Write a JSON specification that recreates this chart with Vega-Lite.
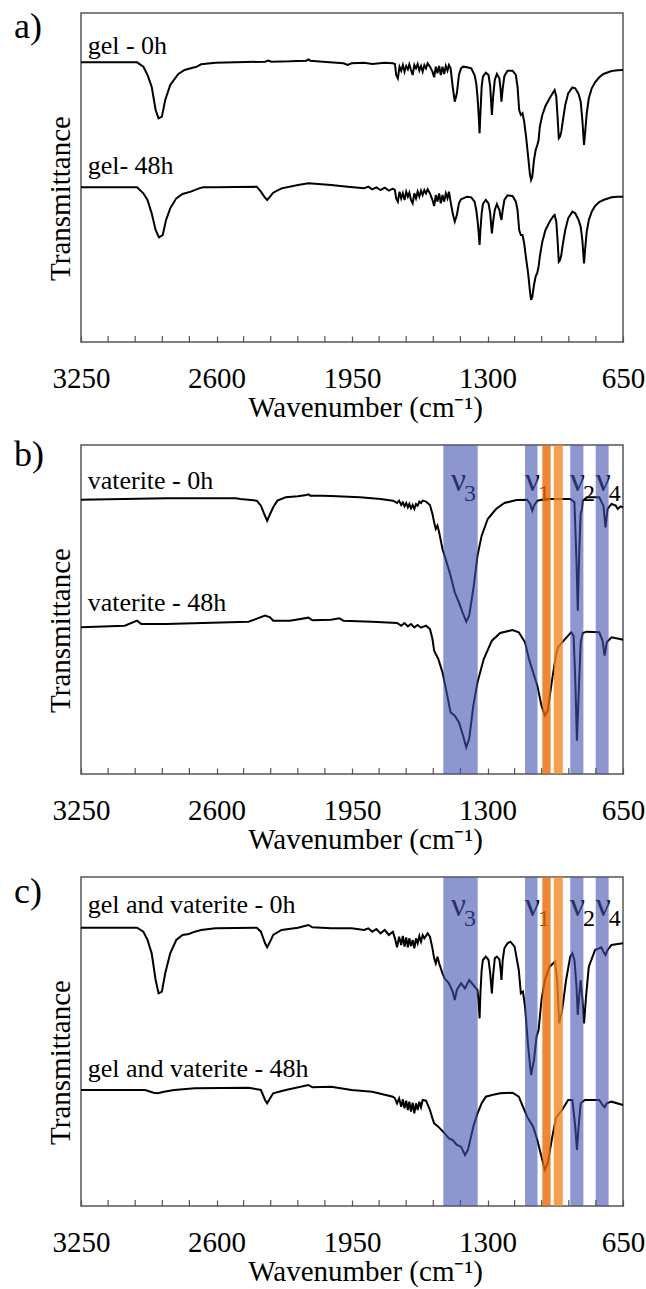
{
"$schema": "https://vega.github.io/schema/vega-lite/v6.json",
"padding": {"left": 13, "top": 7, "right": 0, "bottom": 0},
"background": "white",
"spacing": 103,
"bounds": "flush",
"config": {"view": {"stroke": "#555555", "strokeWidth": 1.5}, "font": "Liberation Serif"},
"datasets": {
"a": [
{"w":3250,"t":839,"s":"0h"},{"w":2981,"t":839,"s":"0h"},{"w":2951,"t":826,"s":"0h"},{"w":2931,"t":801,"s":"0h"},{"w":2911,"t":766,"s":"0h"},{"w":2892,"t":696,"s":"0h"},{"w":2878,"t":671,"s":"0h"},{"w":2862,"t":676,"s":"0h"},{"w":2846,"t":726,"s":"0h"},{"w":2822,"t":771,"s":"0h"},{"w":2783,"t":804,"s":"0h"},{"w":2753,"t":816,"s":"0h"},{"w":2723,"t":821,"s":"0h"},{"w":2694,"t":826,"s":"0h"},{"w":2674,"t":833,"s":"0h"},{"w":2605,"t":838,"s":"0h"},{"w":2367,"t":841,"s":"0h"},{"w":2351,"t":844,"s":"0h"},{"w":2338,"t":841,"s":"0h"},{"w":2248,"t":842,"s":"0h"},{"w":2169,"t":844,"s":"0h"},{"w":2159,"t":848,"s":"0h"},{"w":2150,"t":844,"s":"0h"},{"w":2090,"t":841,"s":"0h"},{"w":1991,"t":836,"s":"0h"},{"w":1971,"t":831,"s":"0h"},{"w":1952,"t":836,"s":"0h"},{"w":1892,"t":838,"s":"0h"},{"w":1853,"t":834,"s":"0h"},{"w":1793,"t":838,"s":"0h"},{"w":1754,"t":836,"s":"0h"},{"w":1744,"t":834,"s":"0h"},{"w":1738,"t":801,"s":"0h"},{"w":1730,"t":791,"s":"0h"},{"w":1722,"t":826,"s":"0h"},{"w":1714,"t":814,"s":"0h"},{"w":1706,"t":831,"s":"0h"},{"w":1698,"t":811,"s":"0h"},{"w":1690,"t":828,"s":"0h"},{"w":1682,"t":818,"s":"0h"},{"w":1675,"t":833,"s":"0h"},{"w":1667,"t":816,"s":"0h"},{"w":1659,"t":801,"s":"0h"},{"w":1651,"t":831,"s":"0h"},{"w":1643,"t":821,"s":"0h"},{"w":1635,"t":834,"s":"0h"},{"w":1627,"t":814,"s":"0h"},{"w":1619,"t":828,"s":"0h"},{"w":1611,"t":811,"s":"0h"},{"w":1603,"t":831,"s":"0h"},{"w":1595,"t":821,"s":"0h"},{"w":1587,"t":836,"s":"0h"},{"w":1576,"t":826,"s":"0h"},{"w":1564,"t":811,"s":"0h"},{"w":1556,"t":794,"s":"0h"},{"w":1548,"t":826,"s":"0h"},{"w":1540,"t":806,"s":"0h"},{"w":1532,"t":828,"s":"0h"},{"w":1524,"t":801,"s":"0h"},{"w":1516,"t":826,"s":"0h"},{"w":1508,"t":804,"s":"0h"},{"w":1500,"t":828,"s":"0h"},{"w":1492,"t":814,"s":"0h"},{"w":1485,"t":831,"s":"0h"},{"w":1477,"t":821,"s":"0h"},{"w":1467,"t":766,"s":"0h"},{"w":1457,"t":721,"s":"0h"},{"w":1447,"t":746,"s":"0h"},{"w":1437,"t":801,"s":"0h"},{"w":1427,"t":821,"s":"0h"},{"w":1417,"t":826,"s":"0h"},{"w":1398,"t":824,"s":"0h"},{"w":1378,"t":821,"s":"0h"},{"w":1362,"t":801,"s":"0h"},{"w":1354,"t":776,"s":"0h"},{"w":1348,"t":736,"s":"0h"},{"w":1342,"t":676,"s":"0h"},{"w":1338,"t":626,"s":"0h"},{"w":1334,"t":686,"s":"0h"},{"w":1328,"t":766,"s":"0h"},{"w":1322,"t":796,"s":"0h"},{"w":1308,"t":808,"s":"0h"},{"w":1295,"t":801,"s":"0h"},{"w":1287,"t":766,"s":"0h"},{"w":1279,"t":681,"s":"0h"},{"w":1273,"t":736,"s":"0h"},{"w":1265,"t":786,"s":"0h"},{"w":1255,"t":804,"s":"0h"},{"w":1243,"t":791,"s":"0h"},{"w":1237,"t":756,"s":"0h"},{"w":1233,"t":721,"s":"0h"},{"w":1227,"t":761,"s":"0h"},{"w":1219,"t":798,"s":"0h"},{"w":1204,"t":814,"s":"0h"},{"w":1180,"t":814,"s":"0h"},{"w":1164,"t":801,"s":"0h"},{"w":1156,"t":766,"s":"0h"},{"w":1148,"t":696,"s":"0h"},{"w":1140,"t":681,"s":"0h"},{"w":1132,"t":686,"s":"0h"},{"w":1124,"t":661,"s":"0h"},{"w":1115,"t":616,"s":"0h"},{"w":1105,"t":556,"s":"0h"},{"w":1097,"t":506,"s":"0h"},{"w":1091,"t":486,"s":"0h"},{"w":1085,"t":496,"s":"0h"},{"w":1077,"t":546,"s":"0h"},{"w":1069,"t":576,"s":"0h"},{"w":1061,"t":591,"s":"0h"},{"w":1055,"t":606,"s":"0h"},{"w":1049,"t":646,"s":"0h"},{"w":1037,"t":681,"s":"0h"},{"w":1022,"t":708,"s":"0h"},{"w":1002,"t":731,"s":"0h"},{"w":986,"t":748,"s":"0h"},{"w":978,"t":756,"s":"0h"},{"w":970,"t":736,"s":"0h"},{"w":964,"t":676,"s":"0h"},{"w":958,"t":611,"s":"0h"},{"w":952,"t":616,"s":"0h"},{"w":946,"t":631,"s":"0h"},{"w":938,"t":666,"s":"0h"},{"w":927,"t":711,"s":"0h"},{"w":913,"t":746,"s":"0h"},{"w":893,"t":764,"s":"0h"},{"w":879,"t":761,"s":"0h"},{"w":863,"t":744,"s":"0h"},{"w":853,"t":721,"s":"0h"},{"w":845,"t":666,"s":"0h"},{"w":837,"t":591,"s":"0h"},{"w":832,"t":626,"s":"0h"},{"w":824,"t":686,"s":"0h"},{"w":814,"t":731,"s":"0h"},{"w":800,"t":761,"s":"0h"},{"w":784,"t":779,"s":"0h"},{"w":764,"t":794,"s":"0h"},{"w":744,"t":804,"s":"0h"},{"w":705,"t":813,"s":"0h"},{"w":675,"t":815,"s":"0h"},{"w":650,"t":816,"s":"0h"},
{"w":3250,"t":464,"s":"48h"},{"w":2981,"t":464,"s":"48h"},{"w":2951,"t":446,"s":"48h"},{"w":2931,"t":426,"s":"48h"},{"w":2911,"t":386,"s":"48h"},{"w":2892,"t":336,"s":"48h"},{"w":2876,"t":314,"s":"48h"},{"w":2858,"t":321,"s":"48h"},{"w":2842,"t":366,"s":"48h"},{"w":2822,"t":401,"s":"48h"},{"w":2793,"t":431,"s":"48h"},{"w":2763,"t":444,"s":"48h"},{"w":2723,"t":451,"s":"48h"},{"w":2684,"t":461,"s":"48h"},{"w":2664,"t":464,"s":"48h"},{"w":2605,"t":464,"s":"48h"},{"w":2407,"t":466,"s":"48h"},{"w":2387,"t":451,"s":"48h"},{"w":2371,"t":436,"s":"48h"},{"w":2357,"t":426,"s":"48h"},{"w":2343,"t":436,"s":"48h"},{"w":2328,"t":448,"s":"48h"},{"w":2288,"t":461,"s":"48h"},{"w":2209,"t":471,"s":"48h"},{"w":2159,"t":476,"s":"48h"},{"w":2050,"t":471,"s":"48h"},{"w":1971,"t":466,"s":"48h"},{"w":1892,"t":461,"s":"48h"},{"w":1872,"t":466,"s":"48h"},{"w":1853,"t":458,"s":"48h"},{"w":1833,"t":464,"s":"48h"},{"w":1813,"t":456,"s":"48h"},{"w":1793,"t":463,"s":"48h"},{"w":1773,"t":454,"s":"48h"},{"w":1754,"t":460,"s":"48h"},{"w":1744,"t":456,"s":"48h"},{"w":1738,"t":431,"s":"48h"},{"w":1730,"t":421,"s":"48h"},{"w":1722,"t":451,"s":"48h"},{"w":1714,"t":431,"s":"48h"},{"w":1706,"t":446,"s":"48h"},{"w":1698,"t":426,"s":"48h"},{"w":1690,"t":451,"s":"48h"},{"w":1682,"t":436,"s":"48h"},{"w":1675,"t":448,"s":"48h"},{"w":1667,"t":426,"s":"48h"},{"w":1659,"t":416,"s":"48h"},{"w":1651,"t":446,"s":"48h"},{"w":1643,"t":431,"s":"48h"},{"w":1635,"t":451,"s":"48h"},{"w":1627,"t":436,"s":"48h"},{"w":1619,"t":454,"s":"48h"},{"w":1611,"t":441,"s":"48h"},{"w":1603,"t":456,"s":"48h"},{"w":1595,"t":446,"s":"48h"},{"w":1587,"t":458,"s":"48h"},{"w":1576,"t":446,"s":"48h"},{"w":1564,"t":426,"s":"48h"},{"w":1556,"t":408,"s":"48h"},{"w":1548,"t":441,"s":"48h"},{"w":1540,"t":421,"s":"48h"},{"w":1532,"t":446,"s":"48h"},{"w":1524,"t":416,"s":"48h"},{"w":1516,"t":441,"s":"48h"},{"w":1508,"t":421,"s":"48h"},{"w":1500,"t":446,"s":"48h"},{"w":1492,"t":431,"s":"48h"},{"w":1485,"t":451,"s":"48h"},{"w":1477,"t":421,"s":"48h"},{"w":1467,"t":386,"s":"48h"},{"w":1457,"t":361,"s":"48h"},{"w":1447,"t":381,"s":"48h"},{"w":1437,"t":416,"s":"48h"},{"w":1427,"t":428,"s":"48h"},{"w":1398,"t":436,"s":"48h"},{"w":1378,"t":434,"s":"48h"},{"w":1362,"t":421,"s":"48h"},{"w":1354,"t":396,"s":"48h"},{"w":1348,"t":366,"s":"48h"},{"w":1342,"t":326,"s":"48h"},{"w":1338,"t":291,"s":"48h"},{"w":1334,"t":336,"s":"48h"},{"w":1328,"t":386,"s":"48h"},{"w":1322,"t":414,"s":"48h"},{"w":1308,"t":426,"s":"48h"},{"w":1295,"t":416,"s":"48h"},{"w":1287,"t":386,"s":"48h"},{"w":1279,"t":326,"s":"48h"},{"w":1273,"t":361,"s":"48h"},{"w":1265,"t":396,"s":"48h"},{"w":1255,"t":414,"s":"48h"},{"w":1243,"t":396,"s":"48h"},{"w":1237,"t":376,"s":"48h"},{"w":1233,"t":366,"s":"48h"},{"w":1227,"t":396,"s":"48h"},{"w":1219,"t":426,"s":"48h"},{"w":1204,"t":440,"s":"48h"},{"w":1180,"t":438,"s":"48h"},{"w":1164,"t":421,"s":"48h"},{"w":1156,"t":396,"s":"48h"},{"w":1148,"t":336,"s":"48h"},{"w":1140,"t":321,"s":"48h"},{"w":1132,"t":321,"s":"48h"},{"w":1124,"t":296,"s":"48h"},{"w":1115,"t":251,"s":"48h"},{"w":1105,"t":206,"s":"48h"},{"w":1097,"t":156,"s":"48h"},{"w":1091,"t":126,"s":"48h"},{"w":1085,"t":136,"s":"48h"},{"w":1077,"t":171,"s":"48h"},{"w":1069,"t":196,"s":"48h"},{"w":1061,"t":208,"s":"48h"},{"w":1055,"t":226,"s":"48h"},{"w":1049,"t":256,"s":"48h"},{"w":1037,"t":301,"s":"48h"},{"w":1022,"t":336,"s":"48h"},{"w":1002,"t":361,"s":"48h"},{"w":986,"t":376,"s":"48h"},{"w":978,"t":381,"s":"48h"},{"w":970,"t":361,"s":"48h"},{"w":964,"t":306,"s":"48h"},{"w":958,"t":241,"s":"48h"},{"w":952,"t":246,"s":"48h"},{"w":946,"t":261,"s":"48h"},{"w":938,"t":296,"s":"48h"},{"w":927,"t":336,"s":"48h"},{"w":913,"t":371,"s":"48h"},{"w":893,"t":391,"s":"48h"},{"w":879,"t":386,"s":"48h"},{"w":863,"t":366,"s":"48h"},{"w":853,"t":346,"s":"48h"},{"w":845,"t":306,"s":"48h"},{"w":837,"t":236,"s":"48h"},{"w":832,"t":276,"s":"48h"},{"w":824,"t":331,"s":"48h"},{"w":814,"t":366,"s":"48h"},{"w":800,"t":391,"s":"48h"},{"w":784,"t":408,"s":"48h"},{"w":764,"t":420,"s":"48h"},{"w":744,"t":426,"s":"48h"},{"w":705,"t":434,"s":"48h"},{"w":675,"t":436,"s":"48h"},{"w":650,"t":436,"s":"48h"}
],
"b": [
{"w":3250,"t":823,"s":"0h"},{"w":2842,"t":827,"s":"0h"},{"w":2506,"t":827,"s":"0h"},{"w":2486,"t":825,"s":"0h"},{"w":2407,"t":820,"s":"0h"},{"w":2387,"t":805,"s":"0h"},{"w":2371,"t":780,"s":"0h"},{"w":2357,"t":760,"s":"0h"},{"w":2343,"t":780,"s":"0h"},{"w":2328,"t":800,"s":"0h"},{"w":2308,"t":820,"s":"0h"},{"w":2268,"t":830,"s":"0h"},{"w":2209,"t":833,"s":"0h"},{"w":2169,"t":837,"s":"0h"},{"w":2159,"t":839,"s":"0h"},{"w":2150,"t":835,"s":"0h"},{"w":2090,"t":835,"s":"0h"},{"w":2050,"t":834,"s":"0h"},{"w":1912,"t":830,"s":"0h"},{"w":1813,"t":825,"s":"0h"},{"w":1754,"t":820,"s":"0h"},{"w":1744,"t":817,"s":"0h"},{"w":1734,"t":813,"s":"0h"},{"w":1724,"t":820,"s":"0h"},{"w":1714,"t":807,"s":"0h"},{"w":1706,"t":815,"s":"0h"},{"w":1698,"t":803,"s":"0h"},{"w":1690,"t":813,"s":"0h"},{"w":1682,"t":800,"s":"0h"},{"w":1675,"t":810,"s":"0h"},{"w":1667,"t":797,"s":"0h"},{"w":1659,"t":807,"s":"0h"},{"w":1651,"t":795,"s":"0h"},{"w":1643,"t":810,"s":"0h"},{"w":1635,"t":805,"s":"0h"},{"w":1627,"t":817,"s":"0h"},{"w":1619,"t":813,"s":"0h"},{"w":1611,"t":820,"s":"0h"},{"w":1595,"t":817,"s":"0h"},{"w":1576,"t":807,"s":"0h"},{"w":1564,"t":780,"s":"0h"},{"w":1556,"t":755,"s":"0h"},{"w":1548,"t":735,"s":"0h"},{"w":1540,"t":745,"s":"0h"},{"w":1532,"t":725,"s":"0h"},{"w":1524,"t":700,"s":"0h"},{"w":1516,"t":675,"s":"0h"},{"w":1496,"t":635,"s":"0h"},{"w":1477,"t":595,"s":"0h"},{"w":1457,"t":545,"s":"0h"},{"w":1437,"t":515,"s":"0h"},{"w":1417,"t":480,"s":"0h"},{"w":1402,"t":457,"s":"0h"},{"w":1388,"t":475,"s":"0h"},{"w":1368,"t":555,"s":"0h"},{"w":1348,"t":655,"s":"0h"},{"w":1328,"t":715,"s":"0h"},{"w":1299,"t":765,"s":"0h"},{"w":1259,"t":795,"s":"0h"},{"w":1219,"t":813,"s":"0h"},{"w":1160,"t":822,"s":"0h"},{"w":1110,"t":823,"s":"0h"},{"w":1095,"t":810,"s":"0h"},{"w":1085,"t":790,"s":"0h"},{"w":1075,"t":807,"s":"0h"},{"w":1061,"t":820,"s":"0h"},{"w":1022,"t":825,"s":"0h"},{"w":903,"t":825,"s":"0h"},{"w":883,"t":815,"s":"0h"},{"w":873,"t":635,"s":"0h"},{"w":867,"t":490,"s":"0h"},{"w":859,"t":685,"s":"0h"},{"w":853,"t":780,"s":"0h"},{"w":847,"t":795,"s":"0h"},{"w":843,"t":820,"s":"0h"},{"w":824,"t":830,"s":"0h"},{"w":764,"t":830,"s":"0h"},{"w":744,"t":805,"s":"0h"},{"w":734,"t":740,"s":"0h"},{"w":724,"t":795,"s":"0h"},{"w":705,"t":810,"s":"0h"},{"w":685,"t":805,"s":"0h"},{"w":675,"t":795,"s":"0h"},{"w":661,"t":803,"s":"0h"},{"w":650,"t":800,"s":"0h"},
{"w":3250,"t":440,"s":"48h"},{"w":3040,"t":445,"s":"48h"},{"w":2981,"t":460,"s":"48h"},{"w":2961,"t":450,"s":"48h"},{"w":2842,"t":450,"s":"48h"},{"w":2446,"t":457,"s":"48h"},{"w":2367,"t":475,"s":"48h"},{"w":2343,"t":470,"s":"48h"},{"w":2328,"t":460,"s":"48h"},{"w":2248,"t":460,"s":"48h"},{"w":2159,"t":469,"s":"48h"},{"w":2140,"t":461,"s":"48h"},{"w":2050,"t":463,"s":"48h"},{"w":2011,"t":467,"s":"48h"},{"w":1991,"t":460,"s":"48h"},{"w":1853,"t":457,"s":"48h"},{"w":1734,"t":453,"s":"48h"},{"w":1714,"t":445,"s":"48h"},{"w":1698,"t":453,"s":"48h"},{"w":1682,"t":443,"s":"48h"},{"w":1667,"t":450,"s":"48h"},{"w":1651,"t":440,"s":"48h"},{"w":1635,"t":447,"s":"48h"},{"w":1619,"t":439,"s":"48h"},{"w":1595,"t":445,"s":"48h"},{"w":1576,"t":435,"s":"48h"},{"w":1564,"t":405,"s":"48h"},{"w":1556,"t":370,"s":"48h"},{"w":1536,"t":345,"s":"48h"},{"w":1516,"t":305,"s":"48h"},{"w":1496,"t":245,"s":"48h"},{"w":1477,"t":185,"s":"48h"},{"w":1457,"t":175,"s":"48h"},{"w":1437,"t":155,"s":"48h"},{"w":1417,"t":115,"s":"48h"},{"w":1402,"t":80,"s":"48h"},{"w":1388,"t":105,"s":"48h"},{"w":1368,"t":205,"s":"48h"},{"w":1348,"t":275,"s":"48h"},{"w":1318,"t":345,"s":"48h"},{"w":1279,"t":400,"s":"48h"},{"w":1239,"t":423,"s":"48h"},{"w":1180,"t":432,"s":"48h"},{"w":1150,"t":425,"s":"48h"},{"w":1120,"t":395,"s":"48h"},{"w":1101,"t":345,"s":"48h"},{"w":1081,"t":305,"s":"48h"},{"w":1061,"t":265,"s":"48h"},{"w":1041,"t":205,"s":"48h"},{"w":1025,"t":175,"s":"48h"},{"w":1011,"t":190,"s":"48h"},{"w":992,"t":275,"s":"48h"},{"w":972,"t":355,"s":"48h"},{"w":962,"t":380,"s":"48h"},{"w":942,"t":395,"s":"48h"},{"w":913,"t":415,"s":"48h"},{"w":899,"t":425,"s":"48h"},{"w":887,"t":415,"s":"48h"},{"w":879,"t":285,"s":"48h"},{"w":871,"t":100,"s":"48h"},{"w":863,"t":235,"s":"48h"},{"w":853,"t":395,"s":"48h"},{"w":843,"t":423,"s":"48h"},{"w":824,"t":427,"s":"48h"},{"w":764,"t":425,"s":"48h"},{"w":748,"t":400,"s":"48h"},{"w":738,"t":355,"s":"48h"},{"w":728,"t":395,"s":"48h"},{"w":705,"t":410,"s":"48h"},{"w":665,"t":405,"s":"48h"},{"w":650,"t":403,"s":"48h"}
],
"c": [
{"w":3250,"t":835,"s":"0h"},{"w":2981,"t":835,"s":"0h"},{"w":2951,"t":823,"s":"0h"},{"w":2931,"t":798,"s":"0h"},{"w":2911,"t":758,"s":"0h"},{"w":2892,"t":678,"s":"0h"},{"w":2878,"t":638,"s":"0h"},{"w":2862,"t":643,"s":"0h"},{"w":2846,"t":698,"s":"0h"},{"w":2822,"t":758,"s":"0h"},{"w":2793,"t":798,"s":"0h"},{"w":2763,"t":813,"s":"0h"},{"w":2733,"t":816,"s":"0h"},{"w":2704,"t":823,"s":"0h"},{"w":2674,"t":828,"s":"0h"},{"w":2605,"t":833,"s":"0h"},{"w":2407,"t":835,"s":"0h"},{"w":2387,"t":823,"s":"0h"},{"w":2367,"t":788,"s":"0h"},{"w":2357,"t":776,"s":"0h"},{"w":2343,"t":793,"s":"0h"},{"w":2328,"t":813,"s":"0h"},{"w":2288,"t":828,"s":"0h"},{"w":2209,"t":835,"s":"0h"},{"w":2159,"t":843,"s":"0h"},{"w":2140,"t":836,"s":"0h"},{"w":2050,"t":833,"s":"0h"},{"w":1952,"t":833,"s":"0h"},{"w":1892,"t":828,"s":"0h"},{"w":1872,"t":833,"s":"0h"},{"w":1853,"t":823,"s":"0h"},{"w":1833,"t":831,"s":"0h"},{"w":1813,"t":818,"s":"0h"},{"w":1793,"t":828,"s":"0h"},{"w":1773,"t":813,"s":"0h"},{"w":1754,"t":823,"s":"0h"},{"w":1744,"t":803,"s":"0h"},{"w":1734,"t":776,"s":"0h"},{"w":1724,"t":808,"s":"0h"},{"w":1714,"t":783,"s":"0h"},{"w":1706,"t":810,"s":"0h"},{"w":1698,"t":778,"s":"0h"},{"w":1690,"t":806,"s":"0h"},{"w":1682,"t":776,"s":"0h"},{"w":1675,"t":803,"s":"0h"},{"w":1667,"t":780,"s":"0h"},{"w":1659,"t":798,"s":"0h"},{"w":1651,"t":773,"s":"0h"},{"w":1643,"t":803,"s":"0h"},{"w":1635,"t":788,"s":"0h"},{"w":1627,"t":810,"s":"0h"},{"w":1619,"t":793,"s":"0h"},{"w":1611,"t":813,"s":"0h"},{"w":1603,"t":803,"s":"0h"},{"w":1587,"t":818,"s":"0h"},{"w":1576,"t":808,"s":"0h"},{"w":1564,"t":773,"s":"0h"},{"w":1556,"t":743,"s":"0h"},{"w":1548,"t":728,"s":"0h"},{"w":1540,"t":748,"s":"0h"},{"w":1532,"t":728,"s":"0h"},{"w":1516,"t":698,"s":"0h"},{"w":1506,"t":683,"s":"0h"},{"w":1485,"t":668,"s":"0h"},{"w":1467,"t":643,"s":"0h"},{"w":1457,"t":618,"s":"0h"},{"w":1447,"t":648,"s":"0h"},{"w":1427,"t":668,"s":"0h"},{"w":1408,"t":653,"s":"0h"},{"w":1388,"t":678,"s":"0h"},{"w":1368,"t":663,"s":"0h"},{"w":1348,"t":648,"s":"0h"},{"w":1342,"t":608,"s":"0h"},{"w":1338,"t":563,"s":"0h"},{"w":1334,"t":638,"s":"0h"},{"w":1328,"t":708,"s":"0h"},{"w":1322,"t":738,"s":"0h"},{"w":1308,"t":748,"s":"0h"},{"w":1295,"t":738,"s":"0h"},{"w":1287,"t":698,"s":"0h"},{"w":1279,"t":638,"s":"0h"},{"w":1273,"t":693,"s":"0h"},{"w":1265,"t":743,"s":"0h"},{"w":1255,"t":748,"s":"0h"},{"w":1243,"t":740,"s":"0h"},{"w":1237,"t":708,"s":"0h"},{"w":1233,"t":678,"s":"0h"},{"w":1227,"t":738,"s":"0h"},{"w":1219,"t":773,"s":"0h"},{"w":1204,"t":788,"s":"0h"},{"w":1190,"t":793,"s":"0h"},{"w":1170,"t":778,"s":"0h"},{"w":1150,"t":708,"s":"0h"},{"w":1140,"t":638,"s":"0h"},{"w":1130,"t":643,"s":"0h"},{"w":1120,"t":598,"s":"0h"},{"w":1105,"t":478,"s":"0h"},{"w":1091,"t":393,"s":"0h"},{"w":1077,"t":438,"s":"0h"},{"w":1065,"t":508,"s":"0h"},{"w":1055,"t":528,"s":"0h"},{"w":1041,"t":618,"s":"0h"},{"w":1025,"t":678,"s":"0h"},{"w":1002,"t":718,"s":"0h"},{"w":976,"t":733,"s":"0h"},{"w":966,"t":678,"s":"0h"},{"w":956,"t":548,"s":"0h"},{"w":942,"t":588,"s":"0h"},{"w":923,"t":678,"s":"0h"},{"w":903,"t":748,"s":"0h"},{"w":893,"t":758,"s":"0h"},{"w":883,"t":738,"s":"0h"},{"w":873,"t":658,"s":"0h"},{"w":867,"t":573,"s":"0h"},{"w":859,"t":638,"s":"0h"},{"w":853,"t":678,"s":"0h"},{"w":843,"t":608,"s":"0h"},{"w":837,"t":548,"s":"0h"},{"w":826,"t":638,"s":"0h"},{"w":814,"t":718,"s":"0h"},{"w":784,"t":768,"s":"0h"},{"w":754,"t":776,"s":"0h"},{"w":744,"t":763,"s":"0h"},{"w":734,"t":753,"s":"0h"},{"w":724,"t":768,"s":"0h"},{"w":705,"t":783,"s":"0h"},{"w":675,"t":786,"s":"0h"},{"w":650,"t":788,"s":"0h"},
{"w":3250,"t":348,"s":"48h"},{"w":2942,"t":348,"s":"48h"},{"w":2902,"t":340,"s":"48h"},{"w":2882,"t":338,"s":"48h"},{"w":2852,"t":343,"s":"48h"},{"w":2803,"t":348,"s":"48h"},{"w":2704,"t":353,"s":"48h"},{"w":2446,"t":355,"s":"48h"},{"w":2387,"t":348,"s":"48h"},{"w":2367,"t":318,"s":"48h"},{"w":2357,"t":308,"s":"48h"},{"w":2343,"t":323,"s":"48h"},{"w":2328,"t":338,"s":"48h"},{"w":2268,"t":348,"s":"48h"},{"w":2159,"t":363,"s":"48h"},{"w":2140,"t":356,"s":"48h"},{"w":2050,"t":358,"s":"48h"},{"w":1952,"t":348,"s":"48h"},{"w":1853,"t":343,"s":"48h"},{"w":1754,"t":328,"s":"48h"},{"w":1744,"t":323,"s":"48h"},{"w":1734,"t":308,"s":"48h"},{"w":1724,"t":323,"s":"48h"},{"w":1714,"t":298,"s":"48h"},{"w":1706,"t":320,"s":"48h"},{"w":1698,"t":293,"s":"48h"},{"w":1690,"t":316,"s":"48h"},{"w":1682,"t":288,"s":"48h"},{"w":1675,"t":313,"s":"48h"},{"w":1667,"t":283,"s":"48h"},{"w":1659,"t":310,"s":"48h"},{"w":1651,"t":278,"s":"48h"},{"w":1643,"t":308,"s":"48h"},{"w":1635,"t":288,"s":"48h"},{"w":1627,"t":313,"s":"48h"},{"w":1619,"t":296,"s":"48h"},{"w":1611,"t":318,"s":"48h"},{"w":1595,"t":316,"s":"48h"},{"w":1576,"t":288,"s":"48h"},{"w":1564,"t":263,"s":"48h"},{"w":1556,"t":248,"s":"48h"},{"w":1536,"t":238,"s":"48h"},{"w":1506,"t":218,"s":"48h"},{"w":1485,"t":203,"s":"48h"},{"w":1467,"t":198,"s":"48h"},{"w":1447,"t":183,"s":"48h"},{"w":1427,"t":178,"s":"48h"},{"w":1408,"t":153,"s":"48h"},{"w":1394,"t":168,"s":"48h"},{"w":1368,"t":238,"s":"48h"},{"w":1348,"t":278,"s":"48h"},{"w":1328,"t":308,"s":"48h"},{"w":1308,"t":328,"s":"48h"},{"w":1279,"t":333,"s":"48h"},{"w":1239,"t":338,"s":"48h"},{"w":1180,"t":340,"s":"48h"},{"w":1150,"t":328,"s":"48h"},{"w":1130,"t":298,"s":"48h"},{"w":1110,"t":268,"s":"48h"},{"w":1081,"t":238,"s":"48h"},{"w":1061,"t":198,"s":"48h"},{"w":1041,"t":148,"s":"48h"},{"w":1025,"t":108,"s":"48h"},{"w":1011,"t":128,"s":"48h"},{"w":992,"t":198,"s":"48h"},{"w":972,"t":263,"s":"48h"},{"w":962,"t":273,"s":"48h"},{"w":942,"t":288,"s":"48h"},{"w":913,"t":318,"s":"48h"},{"w":893,"t":318,"s":"48h"},{"w":879,"t":238,"s":"48h"},{"w":871,"t":168,"s":"48h"},{"w":863,"t":238,"s":"48h"},{"w":853,"t":308,"s":"48h"},{"w":833,"t":318,"s":"48h"},{"w":764,"t":318,"s":"48h"},{"w":748,"t":303,"s":"48h"},{"w":738,"t":296,"s":"48h"},{"w":728,"t":308,"s":"48h"},{"w":705,"t":313,"s":"48h"},{"w":650,"t":303,"s":"48h"}
],
"bands": [
{"w":1512,"w2":1347,"k":"blue"},{"w":1120,"w2":1060,"k":"blue"},{"w":903,"w2":840,"k":"blue"},{"w":781,"w2":719,"k":"blue"},
{"w":1037,"w2":997,"k":"orange1"},{"w":982,"w2":939,"k":"orange2"}
],
"minor": [
{"w":780},{"w":910},{"w":1040},{"w":1170},{"w":1430},{"w":1560},{"w":1690},{"w":1820},{"w":2080},{"w":2210},{"w":2340},{"w":2470},{"w":2730},{"w":2860},{"w":2990},{"w":3120}
],
"nuB": [
{"w":1475,"t":850,"sub":"3"},{"w":1120,"t":850,"sub":"1"},{"w":904,"t":850,"sub":"2"},{"w":781,"t":850,"sub":"4"}
],
"nuC": [
{"w":1475,"t":870,"sub":"3"},{"w":1120,"t":870,"sub":"1"},{"w":904,"t":870,"sub":"2"},{"w":781,"t":870,"sub":"4"}
]
},
"vconcat": [
{
"width": 542, "height": 329,
"layer": [
{"data": {"name": "a"}, "mark": {"type": "line", "color": "black", "strokeWidth": 2},
 "encoding": {
  "x": {"field": "w", "type": "quantitative", "title": "Wavenumber (cm⁻¹)", "scale": {"domain": [650, 3250], "reverse": true, "nice": false, "zero": false},
   "axis": {"values": [650,1300,1950,2600,3250], "format": "d", "grid": false, "domain": false, "offset": -6, "tickSize": 6, "tickColor": "#555555", "tickWidth": 1.2, "labelFont": "Liberation Serif", "labelFontSize": 29, "labelColor": "black", "labelBaseline": "alphabetic", "labelPadding": 45, "labelFlush": false, "labelOverlap": false, "titleFont": "Liberation Serif", "titleFontSize": 29, "titleFontWeight": "normal", "titleColor": "black", "titleX": 284, "titleY": 80, "titleBaseline": "alphabetic"}},
  "y": {"field": "t", "type": "quantitative", "title": "Transmittance", "scale": {"domain": [0, 987], "nice": false, "zero": false},
   "axis": {"labels": false, "ticks": false, "domain": false, "grid": false, "titleFont": "Liberation Serif", "titleFontSize": 29, "titleFontWeight": "normal", "titleColor": "black", "titlePadding": 12, "titleBaseline": "alphabetic", "titleY": 185}},
  "detail": {"field": "s"}}},
{"data": {"name": "minor"}, "mark": {"type": "rule", "color": "#555555", "strokeWidth": 1.2},
 "encoding": {"x": {"field": "w", "type": "quantitative", "title": "Wavenumber (cm⁻¹)"}, "y": {"datum": 0}, "y2": {"datum": 18}}},
{"data": {"values": [{"w": 3218, "t": 864, "txt": "gel - 0h"}, {"w": 3218, "t": 504, "txt": "gel- 48h"}]},
 "mark": {"type": "text", "align": "left", "baseline": "alphabetic", "fontSize": 26, "font": "Liberation Serif", "color": "black"},
 "encoding": {"x": {"field": "w", "type": "quantitative", "title": "Wavenumber (cm⁻¹)"}, "y": {"field": "t", "type": "quantitative", "title": "Transmittance"}, "text": {"field": "txt"}}},
{"data": {"values": [{"w": 3571, "t": 913, "txt": "a)"}]},
 "mark": {"type": "text", "align": "left", "baseline": "alphabetic", "fontSize": 36, "font": "Liberation Serif", "color": "black"},
 "encoding": {"x": {"field": "w", "type": "quantitative", "title": "Wavenumber (cm⁻¹)"}, "y": {"field": "t", "type": "quantitative", "title": "Transmittance"}, "text": {"field": "txt"}}}
]
},
{
"width": 542, "height": 329,
"layer": [
{"data": {"name": "b"}, "mark": {"type": "line", "color": "black", "strokeWidth": 2},
 "encoding": {
  "x": {"field": "w", "type": "quantitative", "title": "Wavenumber (cm⁻¹)", "scale": {"domain": [650, 3250], "reverse": true, "nice": false, "zero": false},
   "axis": {"values": [650,1300,1950,2600,3250], "format": "d", "grid": false, "domain": false, "offset": -6, "tickSize": 6, "tickColor": "#555555", "tickWidth": 1.2, "labelFont": "Liberation Serif", "labelFontSize": 29, "labelColor": "black", "labelBaseline": "alphabetic", "labelPadding": 45, "labelFlush": false, "labelOverlap": false, "titleFont": "Liberation Serif", "titleFontSize": 29, "titleFontWeight": "normal", "titleColor": "black", "titleX": 284, "titleY": 80, "titleBaseline": "alphabetic"}},
  "y": {"field": "t", "type": "quantitative", "title": "Transmittance", "scale": {"domain": [0, 987], "nice": false, "zero": false},
   "axis": {"labels": false, "ticks": false, "domain": false, "grid": false, "titleFont": "Liberation Serif", "titleFontSize": 29, "titleFontWeight": "normal", "titleColor": "black", "titlePadding": 12, "titleBaseline": "alphabetic", "titleY": 185}},
  "detail": {"field": "s"}}},
{"data": {"name": "minor"}, "mark": {"type": "rule", "color": "#555555", "strokeWidth": 1.2},
 "encoding": {"x": {"field": "w", "type": "quantitative", "title": "Wavenumber (cm⁻¹)"}, "y": {"datum": 0}, "y2": {"datum": 18}}},
{"data": {"values": [{"w": 3218, "t": 855, "txt": "vaterite - 0h"}, {"w": 3218, "t": 490, "txt": "vaterite - 48h"}]},
 "mark": {"type": "text", "align": "left", "baseline": "alphabetic", "fontSize": 26, "font": "Liberation Serif", "color": "black"},
 "encoding": {"x": {"field": "w", "type": "quantitative", "title": "Wavenumber (cm⁻¹)"}, "y": {"field": "t", "type": "quantitative", "title": "Transmittance"}, "text": {"field": "txt"}}},
{"data": {"values": [{"w": 3571, "t": 925, "txt": "b)"}]},
 "mark": {"type": "text", "align": "left", "baseline": "alphabetic", "fontSize": 36, "font": "Liberation Serif", "color": "black"},
 "encoding": {"x": {"field": "w", "type": "quantitative", "title": "Wavenumber (cm⁻¹)"}, "y": {"field": "t", "type": "quantitative", "title": "Transmittance"}, "text": {"field": "txt"}}},
{"data": {"name": "nuB"},
 "mark": {"type": "text", "align": "left", "baseline": "alphabetic", "fontSize": 33, "font": "Liberation Serif", "color": "black", "text": "ν"},
 "encoding": {"x": {"field": "w", "type": "quantitative", "title": "Wavenumber (cm⁻¹)"}, "y": {"field": "t", "type": "quantitative", "title": "Transmittance"}}},
{"data": {"name": "nuB"},
 "mark": {"type": "text", "align": "left", "baseline": "alphabetic", "fontSize": 24, "font": "Liberation Serif", "color": "black", "dx": 13, "dy": 10},
 "encoding": {"x": {"field": "w", "type": "quantitative", "title": "Wavenumber (cm⁻¹)"}, "y": {"field": "t", "type": "quantitative", "title": "Transmittance"}, "text": {"field": "sub"}}},
{"data": {"name": "bands"}, "transform": [{"filter": "datum.k === 'blue'"}],
 "mark": {"type": "rect", "color": "#4150af", "opacity": 0.6},
 "encoding": {"x": {"field": "w", "type": "quantitative", "title": "Wavenumber (cm⁻¹)"}, "x2": {"field": "w2"}}},
{"data": {"name": "bands"}, "transform": [{"filter": "datum.k !== 'blue'"}],
 "mark": {"type": "rect", "opacity": 0.8},
 "encoding": {"x": {"field": "w", "type": "quantitative", "title": "Wavenumber (cm⁻¹)"}, "x2": {"field": "w2"},
  "color": {"field": "k", "type": "nominal", "scale": {"domain": ["orange1", "orange2"], "range": ["#ec6905", "#f38824"]}, "legend": null}}}
]
},
{
"width": 542, "height": 329,
"layer": [
{"data": {"name": "c"}, "mark": {"type": "line", "color": "black", "strokeWidth": 2},
 "encoding": {
  "x": {"field": "w", "type": "quantitative", "title": "Wavenumber (cm⁻¹)", "scale": {"domain": [650, 3250], "reverse": true, "nice": false, "zero": false},
   "axis": {"values": [650,1300,1950,2600,3250], "format": "d", "grid": false, "domain": false, "offset": -6, "tickSize": 6, "tickColor": "#555555", "tickWidth": 1.2, "labelFont": "Liberation Serif", "labelFontSize": 29, "labelColor": "black", "labelBaseline": "alphabetic", "labelPadding": 45, "labelFlush": false, "labelOverlap": false, "titleFont": "Liberation Serif", "titleFontSize": 29, "titleFontWeight": "normal", "titleColor": "black", "titleX": 284, "titleY": 80, "titleBaseline": "alphabetic"}},
  "y": {"field": "t", "type": "quantitative", "title": "Transmittance", "scale": {"domain": [0, 987], "nice": false, "zero": false},
   "axis": {"labels": false, "ticks": false, "domain": false, "grid": false, "titleFont": "Liberation Serif", "titleFontSize": 29, "titleFontWeight": "normal", "titleColor": "black", "titlePadding": 12, "titleBaseline": "alphabetic", "titleY": 185}},
  "detail": {"field": "s"}}},
{"data": {"name": "minor"}, "mark": {"type": "rule", "color": "#555555", "strokeWidth": 1.2},
 "encoding": {"x": {"field": "w", "type": "quantitative", "title": "Wavenumber (cm⁻¹)"}, "y": {"datum": 0}, "y2": {"datum": 18}}},
{"data": {"values": [{"w": 3218, "t": 878, "txt": "gel and vaterite - 0h"}, {"w": 3218, "t": 388, "txt": "gel and vaterite - 48h"}]},
 "mark": {"type": "text", "align": "left", "baseline": "alphabetic", "fontSize": 26, "font": "Liberation Serif", "color": "black"},
 "encoding": {"x": {"field": "w", "type": "quantitative", "title": "Wavenumber (cm⁻¹)"}, "y": {"field": "t", "type": "quantitative", "title": "Transmittance"}, "text": {"field": "txt"}}},
{"data": {"values": [{"w": 3571, "t": 909, "txt": "c)"}]},
 "mark": {"type": "text", "align": "left", "baseline": "alphabetic", "fontSize": 36, "font": "Liberation Serif", "color": "black"},
 "encoding": {"x": {"field": "w", "type": "quantitative", "title": "Wavenumber (cm⁻¹)"}, "y": {"field": "t", "type": "quantitative", "title": "Transmittance"}, "text": {"field": "txt"}}},
{"data": {"name": "nuC"},
 "mark": {"type": "text", "align": "left", "baseline": "alphabetic", "fontSize": 33, "font": "Liberation Serif", "color": "black", "text": "ν"},
 "encoding": {"x": {"field": "w", "type": "quantitative", "title": "Wavenumber (cm⁻¹)"}, "y": {"field": "t", "type": "quantitative", "title": "Transmittance"}}},
{"data": {"name": "nuC"},
 "mark": {"type": "text", "align": "left", "baseline": "alphabetic", "fontSize": 24, "font": "Liberation Serif", "color": "black", "dx": 13, "dy": 10},
 "encoding": {"x": {"field": "w", "type": "quantitative", "title": "Wavenumber (cm⁻¹)"}, "y": {"field": "t", "type": "quantitative", "title": "Transmittance"}, "text": {"field": "sub"}}},
{"data": {"name": "bands"}, "transform": [{"filter": "datum.k === 'blue'"}],
 "mark": {"type": "rect", "color": "#4150af", "opacity": 0.6},
 "encoding": {"x": {"field": "w", "type": "quantitative", "title": "Wavenumber (cm⁻¹)"}, "x2": {"field": "w2"}}},
{"data": {"name": "bands"}, "transform": [{"filter": "datum.k !== 'blue'"}],
 "mark": {"type": "rect", "opacity": 0.8},
 "encoding": {"x": {"field": "w", "type": "quantitative", "title": "Wavenumber (cm⁻¹)"}, "x2": {"field": "w2"},
  "color": {"field": "k", "type": "nominal", "scale": {"domain": ["orange1", "orange2"], "range": ["#ec6905", "#f38824"]}, "legend": null}}}
]
}
]
}
